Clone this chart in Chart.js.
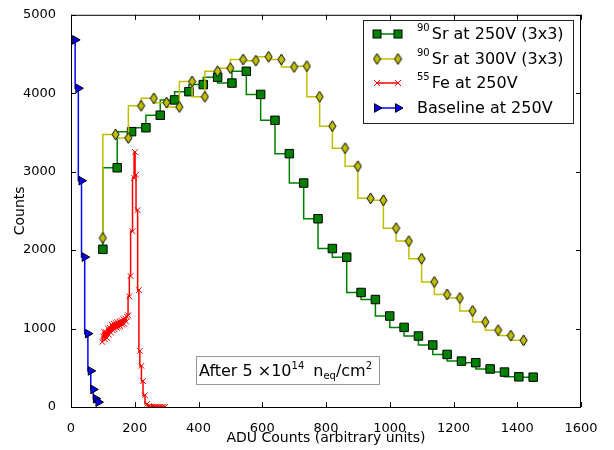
<!DOCTYPE html>
<html><head><meta charset="utf-8">
<script src="https://cdn.jsdelivr.net/npm/chart.js@4/dist/chart.umd.min.js"></script>
<style>html,body{margin:0;padding:0;background:#fff;}canvas{display:block;}</style>
</head><body>
<canvas id="c" width="614" height="450"></canvas>
<script>
// ---- data ----
const xTicks = [0,200,400,600,800,1000,1200,1400,1600];
const yTicks = [0,1000,2000,3000,4000,5000];

const sr250X = [100,145,190,235,280,325,370,415,460,505,550,595,640,685,730,775,820,865,910,955,1000,1045,1090,1135,1180,1225,1270,1315,1360,1405,1450];
const sr250Y = [2010,3050,3510,3560,3720,3915,4020,4110,4205,4130,4280,3985,3655,3230,2855,2400,2020,1910,1460,1370,1160,1015,905,790,670,585,565,485,445,385,380];

const sr300X = [100,140,180,220,260,300,340,380,420,460,500,540,580,620,660,700,740,780,820,860,900,940,980,1020,1060,1100,1140,1180,1220,1260,1300,1340,1380,1420];
const sr300Y = [2155,3475,3430,3840,3935,3880,3825,4150,3955,4280,4320,4430,4415,4465,4430,4335,4345,3955,3580,3300,3070,2660,2635,2280,2115,1890,1595,1435,1390,1225,1085,980,910,850];

const feX = [98,101,104,107,110,113,116,119,122,125,128,131,134,137,140,143,146,149,152,155,158,161,164,167,170,173,176,179,183,187,193,198,201,204,209,213,216,221,226,232,239,245,250,255,260,265,270,275,280,285,290,295];
const feY = [830,900,960,860,950,880,1000,920,1010,950,1050,980,1060,990,1070,1010,1080,1020,1090,1030,1100,1050,1120,1060,1130,1090,1150,1170,1410,1670,2240,2920,3250,2960,2510,1490,715,525,330,150,40,12,5,3,2,1,1,0,0,0,0,0];

const baseX = [13,23,33,43,53,62,70,78,86];
const baseY = [4680,4063,2885,1911,935,460,224,105,62];

const legendSup  = ['90','90','55',''];
const legendText = ['Sr at 250V (3x3)','Sr at 300V (3x3)','Fe at 250V','Baseline at 250V'];

const xTitle = 'ADU Counts (arbitrary units)';
const yTitle = 'Counts';

// ---- styles ----
const GREEN = '#008000', YELLOW = '#bfbf00', RED = '#ff0000', BLUE = '#0000ff';
const FONT = 'DejaVu Sans';

function makeDiamond(){
  const c = document.createElement('canvas');
  c.width = 9; c.height = 13;
  const g = c.getContext('2d');
  g.beginPath();
  g.moveTo(4.5,1); g.lineTo(8,6.5); g.lineTo(4.5,12); g.lineTo(1,6.5); g.closePath();
  g.fillStyle = YELLOW; g.fill();
  g.strokeStyle = '#000'; g.lineWidth = 1; g.stroke();
  return c;
}
const diamond = makeDiamond();

const pts = (xs, ys) => xs.map((v,i)=>({x:v, y:ys[i]}));

const datasets = [
  {label:legendText[0], data:pts(sr250X,sr250Y), borderColor:GREEN, borderWidth:1.5, stepped:'after',
   pointStyle:'rect', pointRadius:6, pointBackgroundColor:GREEN, pointBorderColor:'#000', pointBorderWidth:1, order:4},
  {label:legendText[1], data:pts(sr300X,sr300Y), borderColor:YELLOW, borderWidth:1.5, stepped:'after',
   pointStyle:diamond, pointRadius:6, order:3},
  {label:legendText[2], data:pts(feX,feY), borderColor:RED, borderWidth:1.5, stepped:'after',
   pointStyle:'crossRot', pointRadius:4, pointBorderColor:RED, pointBorderWidth:1, order:2},
  {label:legendText[3], data:pts(baseX,baseY), borderColor:BLUE, borderWidth:1.5, stepped:'after',
   pointStyle:'triangle', pointRotation:90, pointRadius:5, pointBackgroundColor:BLUE, pointBorderColor:'#000', pointBorderWidth:1, order:1}
];

function drawLegendMarker(ctx, i, x, y){
  ctx.save();
  if (i === 0){
    ctx.fillStyle = GREEN; ctx.fillRect(x-4, y-4, 8, 8);
    ctx.strokeStyle='#000'; ctx.lineWidth=1; ctx.strokeRect(x-4, y-4, 8, 8);
  } else if (i === 1){
    ctx.drawImage(diamond, x - diamond.width/2, y - diamond.height/2);
  } else if (i === 2){
    ctx.strokeStyle = RED; ctx.lineWidth = 1;
    ctx.beginPath(); ctx.moveTo(x-3,y-3); ctx.lineTo(x+3,y+3); ctx.moveTo(x-3,y+3); ctx.lineTo(x+3,y-3); ctx.stroke();
  } else {
    ctx.beginPath(); ctx.moveTo(x+5,y); ctx.lineTo(x-2.5,y-4.3); ctx.lineTo(x-2.5,y+4.3); ctx.closePath();
    ctx.fillStyle = BLUE; ctx.fill(); ctx.strokeStyle='#000'; ctx.lineWidth=1; ctx.stroke();
  }
  ctx.restore();
}

const framePlugin = {
  id:'frame',
  afterDraw(chart){
    const {ctx, chartArea:a, scales:{x, y}} = chart;
    ctx.save();
    ctx.strokeStyle = '#000'; ctx.lineWidth = 1;
    ctx.beginPath();
    const TL = 5;
    xTicks.forEach(v=>{
      const px = Math.round(x.getPixelForValue(v)) + 0.5;
      ctx.moveTo(px, a.bottom); ctx.lineTo(px, a.bottom - TL);
      ctx.moveTo(px, a.top); ctx.lineTo(px, a.top + TL);
    });
    yTicks.forEach(v=>{
      const py = Math.round(y.getPixelForValue(v)) + 0.5;
      ctx.moveTo(a.left, py); ctx.lineTo(a.left + TL, py);
      ctx.moveTo(a.right, py); ctx.lineTo(a.right - TL, py);
    });
    ctx.stroke();
    ctx.strokeRect(a.left + 0.5, a.top + 0.5, a.right - a.left - 1, a.bottom - a.top);

    // legend
    const lx = 363.5, ly = 20.5, lw = 210, lh = 103;
    ctx.fillStyle = '#fff'; ctx.fillRect(lx, ly, lw, lh);
    ctx.strokeStyle = '#222'; ctx.lineWidth = 1; ctx.strokeRect(lx, ly, lw, lh);
    const rows = [34, 59, 83, 108];
    const colors = [GREEN, YELLOW, RED, BLUE];
    rows.forEach((ry, i)=>{
      ctx.strokeStyle = colors[i]; ctx.lineWidth = 1.5;
      ctx.beginPath(); ctx.moveTo(377, ry); ctx.lineTo(398, ry); ctx.stroke();
      drawLegendMarker(ctx, i, 377, ry);
      drawLegendMarker(ctx, i, 398, ry);
      ctx.fillStyle = '#000'; ctx.textBaseline = 'middle'; ctx.textAlign = 'left';
      let tx = 417;
      if (legendSup[i]) {
        ctx.font = '10px ' + FONT;
        ctx.fillText(legendSup[i], tx, ry - 6);
        tx += ctx.measureText(legendSup[i]).width + 2;
      }
      ctx.font = '16px ' + FONT;
      ctx.fillText(legendText[i], tx, ry + 1);
    });

    // annotation box
    const bx = 196.5, by = 356.5, bw = 183, bh = 28;
    ctx.fillStyle = '#fff'; ctx.fillRect(bx, by, bw, bh);
    ctx.strokeStyle = '#999'; ctx.lineWidth = 1; ctx.strokeRect(bx, by, bw, bh);
    ctx.fillStyle = '#000'; ctx.textBaseline = 'alphabetic'; ctx.textAlign = 'left';
    const base = 376;
    let ax = 199;
    const seg = (t, size, dy) => { ctx.font = size + 'px ' + FONT; ctx.fillText(t, ax, base + dy); ax += ctx.measureText(t).width; };
    seg('After 5 \u00d710', 16, 0);
    seg('14', 10, -7);
    ax += 9;
    seg('n', 16, 0);
    seg('eq', 10, 3);
    seg('/cm', 16, 0);
    seg('2', 10, -7);
    ctx.restore();
  }
};

new Chart(document.getElementById('c'), {
  type:'line',
  data:{datasets},
  options:{
    responsive:false, animation:false, devicePixelRatio:1,
    layout:{padding:{left:0, right:33, top:12, bottom:0}},
    plugins:{legend:{display:false}, tooltip:{enabled:false}},
    elements:{line:{tension:0, fill:false}},
    scales:{
      x:{type:'linear', min:0, max:1600,
         afterBuildTicks:s=>{ s.ticks = xTicks.map(v=>({value:v})); },
         afterFit:s=>{ s.height = 43; },
         grid:{display:false}, border:{display:false},
         ticks:{font:{family:FONT, size:13}, color:'#000', padding:6, maxRotation:0, autoSkip:false, callback:v=>String(v)},
         title:{display:true, text:xTitle, font:{family:FONT, size:14}, color:'#000', padding:{top:0, bottom:3}}},
      y:{type:'linear', min:0, max:5000,
         afterBuildTicks:s=>{ s.ticks = yTicks.map(v=>({value:v})); },
         afterFit:s=>{ s.width = 71; },
         grid:{display:false}, border:{display:false},
         ticks:{font:{family:FONT, size:13}, color:'#000', padding:7, autoSkip:false, callback:v=>String(v)},
         title:{display:true, text:yTitle, font:{family:FONT, size:14}, color:'#000', padding:{top:12, bottom:0}}}
    }
  },
  plugins:[framePlugin]
});
</script>
</body></html>
